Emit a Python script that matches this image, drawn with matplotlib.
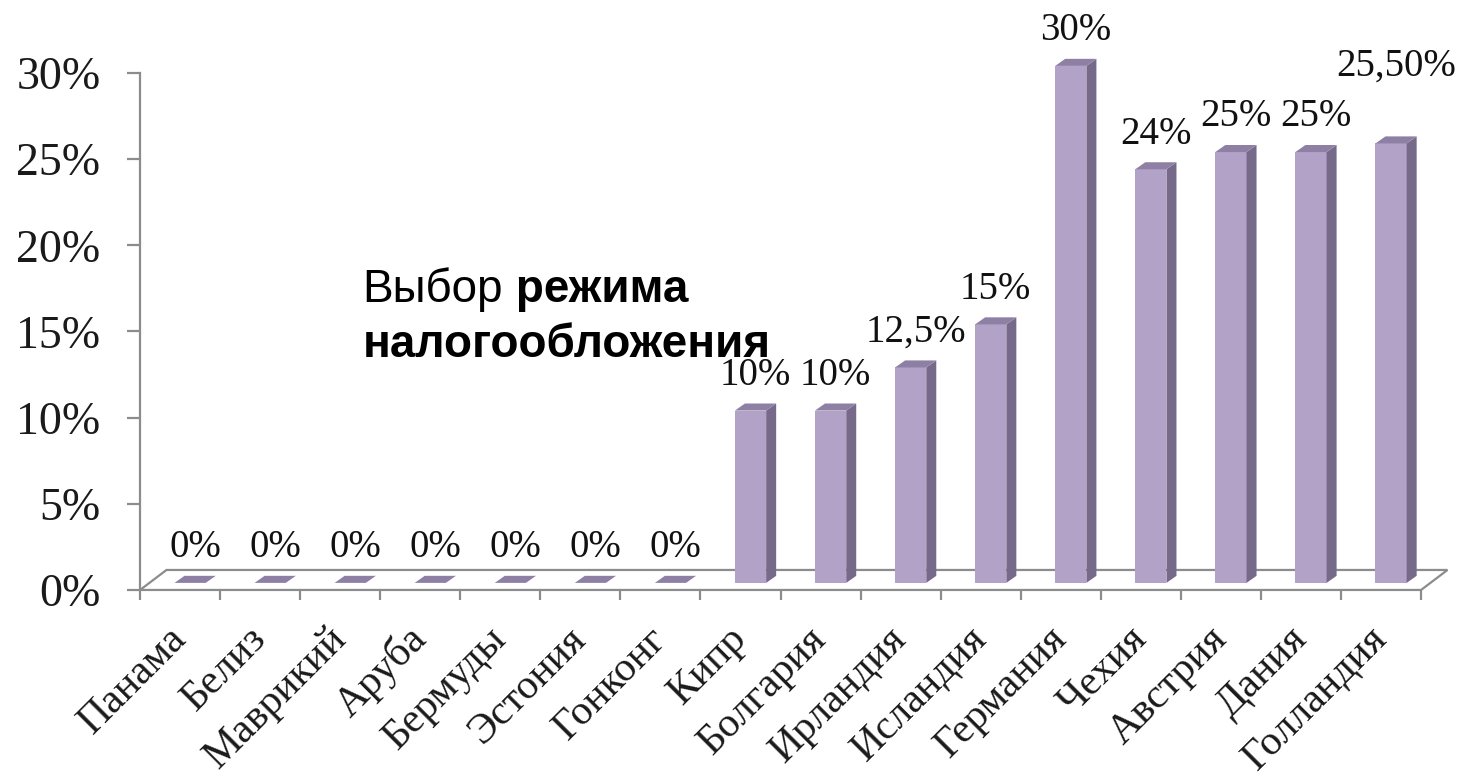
#!/usr/bin/env python3
# 3D-look column chart: tax rate by jurisdiction

import matplotlib
matplotlib.use("Agg")
import matplotlib.pyplot as plt
from matplotlib.patches import Polygon
import numpy as np

# ---------------------------------------------------------------------------
# Data
# ---------------------------------------------------------------------------

countries = ["Панама", "Белиз", "Маврикий", "Аруба", "Бермуды", "Эстония",
             "Гонконг", "Кипр", "Болгария", "Ирландия", "Исландия",
             "Германия", "Чехия", "Австрия", "Дания", "Голландия"]
rates = [0, 0, 0, 0, 0, 0, 0, 10, 10, 12.5, 15, 30, 24, 25, 25, 25.5]
rate_labels = ["0%", "0%", "0%", "0%", "0%", "0%", "0%", "10%", "10%",
               "12,5%", "15%", "30%", "24%", "25%", "25%", "25,50%"]
y_ticks = [0, 5, 10, 15, 20, 25, 30]

caption_regular = "Выбор"
caption_bold_1 = " режима"
caption_bold_2 = "налогообложения"

# ---------------------------------------------------------------------------
# Style
# ---------------------------------------------------------------------------

FRONT = "#b3a2c7"
SIDE = "#76698a"
TOP = "#8e80a4"
AXIS_GRAY = "#8c8c8c"

BAR_W = 0.39                    # front face width, category units
SHIFT_X, SHIFT_Y = 0.125, 0.41  # bar placement inside floor depth
DEPTH_X, DEPTH_Y = 0.125, 0.41  # bar depth
FLOOR_X, FLOOR_Y = 0.33, 1.16   # floor depth

LABEL_PAD = 7                   # points above bar top
LABEL_NUDGE = {"Голландия": 30}

SERIF = "Liberation Serif"
SANS = "Liberation Sans"


def draw_floor(ax, n):
    x0, x1 = -0.5, n - 0.5
    pts = [(x0, 0), (x1, 0), (x1 + FLOOR_X, FLOOR_Y), (x0 + FLOOR_X, FLOOR_Y)]
    ax.add_patch(Polygon(pts, closed=True, facecolor="white",
                         edgecolor=AXIS_GRAY, lw=1.6, zorder=1, clip_on=False))


def draw_bars(ax, values):
    for i, v in enumerate(values):
        xl = i - BAR_W / 2 + SHIFT_X
        xr = xl + BAR_W
        b = SHIFT_Y
        t = b + v
        if v > 0:
            ax.bar(xl + BAR_W / 2, v, width=BAR_W, bottom=b, color=FRONT,
                   lw=0, zorder=3, clip_on=False)
            side = [(xr, b), (xr + DEPTH_X, b + DEPTH_Y),
                    (xr + DEPTH_X, t + DEPTH_Y), (xr, t)]
            ax.add_patch(Polygon(side, closed=True, facecolor=SIDE, lw=0,
                                 zorder=3, clip_on=False))
        top = [(xl, t), (xr, t), (xr + DEPTH_X, t + DEPTH_Y),
               (xl + DEPTH_X, t + DEPTH_Y)]
        ax.add_patch(Polygon(top, closed=True, facecolor=TOP, lw=0,
                             zorder=3, clip_on=False))


def draw_labels(ax, values, labels, names):
    for i, (v, lab, name) in enumerate(zip(values, labels, names)):
        xc = i + SHIFT_X + DEPTH_X / 2
        yt = v + SHIFT_Y + DEPTH_Y
        ax.annotate(lab, xy=(xc, yt),
                    xytext=(0, LABEL_PAD + LABEL_NUDGE.get(name, 0)),
                    textcoords="offset points", ha="center", va="bottom",
                    fontsize=28, family=SERIF, color="#111111", zorder=4,
                    annotation_clip=False)


def style_axes(ax, n):
    ax.set_xlim(-0.5, n - 0.5)
    ax.set_ylim(0, 30)
    for s in ("top", "right", "bottom"):
        ax.spines[s].set_visible(False)
    ax.spines["left"].set_color(AXIS_GRAY)
    ax.spines["left"].set_linewidth(1.6)
    ax.spines["left"].set_zorder(2)

    ax.set_yticks(y_ticks)
    ax.set_yticklabels([f"{t}%" for t in y_ticks], family=SERIF, fontsize=33,
                       color="#1a1a1a")
    ax.tick_params(axis="y", length=9.5, width=1.6, color=AXIS_GRAY, pad=19)

    ax.set_xticks(np.arange(n))
    ax.set_xticklabels(countries, family=SERIF, fontsize=30, rotation=45,
                       ha="right", va="center", rotation_mode="anchor",
                       color="#1a1a1a")
    ax.tick_params(axis="x", which="major", length=0, pad=31)
    ax.set_xticks(np.arange(n + 1) - 0.5, minor=True)
    ax.tick_params(axis="x", which="minor", length=7.5, width=1.6,
                   color=AXIS_GRAY, direction="out")


def draw_caption(fig):
    t1 = fig.text(0.248, 0.612, caption_regular, family=SANS, fontsize=33,
                  ha="left", va="baseline", zorder=10)
    fig.text(0.248, 0.541, caption_bold_2, family=SANS, fontsize=33,
             fontweight="bold", ha="left", va="baseline", zorder=10)
    fig.add_artist(plt.Annotation(caption_bold_1, xy=(1, 0), xycoords=t1,
                                  ha="left", va="bottom", family=SANS,
                                  fontsize=33, fontweight="bold"))


def main():
    n = len(countries)
    fig = plt.figure(figsize=(14.62, 7.78), dpi=100)
    ax = fig.add_axes([0.0958, 0.2417, 0.8762, 0.6645])

    draw_floor(ax, n)
    draw_bars(ax, rates)
    draw_labels(ax, rates, rate_labels, countries)
    style_axes(ax, n)
    draw_caption(fig)

    fig.savefig("out.png", dpi=100)


if __name__ == "__main__":
    main()
